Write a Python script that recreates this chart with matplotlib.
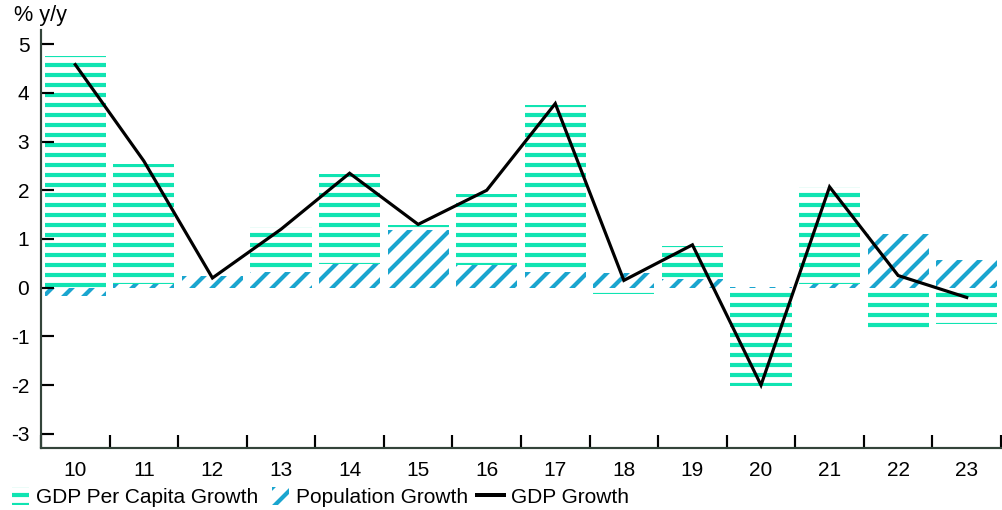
import numpy as np
import matplotlib
matplotlib.use("Agg")
import matplotlib.pyplot as plt
from matplotlib.patches import Patch, Rectangle
from matplotlib.lines import Line2D
from matplotlib.legend_handler import HandlerPatch
from matplotlib.ticker import FixedLocator

plt.rcParams["font.family"] = ["Liberation Sans", "DejaVu Sans"]
plt.rcParams["font.size"] = 12.5
plt.rcParams["hatch.linewidth"] = 2.5

# annual growth, % y/y
years = ["10", "11", "12", "13", "14", "15", "16", "17", "18", "19", "20", "21", "22", "23"]
per_capita = [4.76, 2.47, -0.05, 0.92, 1.85, 0.10, 1.45, 3.43, -0.12, 0.69, -2.02, 1.99, -0.85, -0.75]
population = [-0.17, 0.07, 0.25, 0.33, 0.48, 1.18, 0.47, 0.33, 0.30, 0.17, 0.02, 0.08, 1.10, 0.56]
gdp = [4.58, 2.60, 0.20, 1.20, 2.35, 1.30, 2.00, 3.78, 0.15, 0.88, -2.00, 2.07, 0.25, -0.20]

GREEN = "#10E4B2"
BLUE = "#1AA5CF"
SPINE = "#33443A"

x = np.arange(len(years))
pc = np.array(per_capita)
pop = np.array(population)
# per-capita piece sits on top of population when both have the same sign
base = np.where(np.sign(pc) == np.sign(pop), pop, 0.0)

fig = plt.figure(figsize=(1003 / 120, 510 / 120), dpi=120)
ax = fig.add_axes([41 / 1003, 1 - 448 / 510, 960 / 1003, (448 - 30) / 510])

ax.bar(x, pop, width=0.89, facecolor="none", edgecolor=BLUE, linewidth=0, hatch="//")
ax.bar(x, pc, bottom=base, width=0.89, facecolor="none", edgecolor=GREEN, linewidth=0, hatch="--")
ax.plot(x, gdp, color="black", lw=1.9, solid_joinstyle="miter")

ax.set_xlim(-0.5, len(years) - 0.5)
ax.set_ylim(-3.29, 5.29)
ax.set_yticks(range(-3, 6))
ax.set_yticklabels([str(v) for v in range(-3, 6)])
ax.set_xticks(x)
ax.set_xticklabels(years)
ax.xaxis.set_minor_locator(FixedLocator(np.arange(-0.5, len(years), 1.0)))
ax.tick_params(axis="x", which="major", length=0, pad=8)
ax.tick_params(axis="x", which="minor", direction="in", length=8, width=1.3, color="black")
ax.tick_params(axis="y", direction="in", length=8, width=1.3, color="black", pad=7)

for side in ("top", "right"):
    ax.spines[side].set_visible(False)
for side in ("left", "bottom"):
    ax.spines[side].set_color(SPINE)
    ax.spines[side].set_linewidth(1.3)

fig.text(14 / 1003, 1 - 16 / 510, "% y/y", ha="left", va="center", fontsize=13)


def narrow_patch(legend, orig_handle, xdescent, ydescent, width, height, fontsize):
    # swatch only fills the right-hand part of the handle box
    w = 0.8 * fontsize
    return Rectangle((width - w - xdescent, -ydescent), w, height)


handles = [
    Patch(facecolor="none", edgecolor=GREEN, linewidth=0, hatch="--"),
    Patch(facecolor="none", edgecolor=BLUE, linewidth=0, hatch="//"),
    Line2D([], [], color="black", lw=2.4),
]
labels = ["GDP Per Capita Growth", "Population Growth ", "GDP Growth"]
fig.legend(handles, labels, loc="center left", bbox_to_anchor=(2 / 1003, 1 - 497 / 510),
           ncol=3, frameon=False, handlelength=1.3, handleheight=1.0,
           handletextpad=0.35, columnspacing=0.15, borderaxespad=0.0, borderpad=0.0,
           handler_map={Patch: HandlerPatch(patch_func=narrow_patch)})

fig.savefig("out.png", dpi=120)
